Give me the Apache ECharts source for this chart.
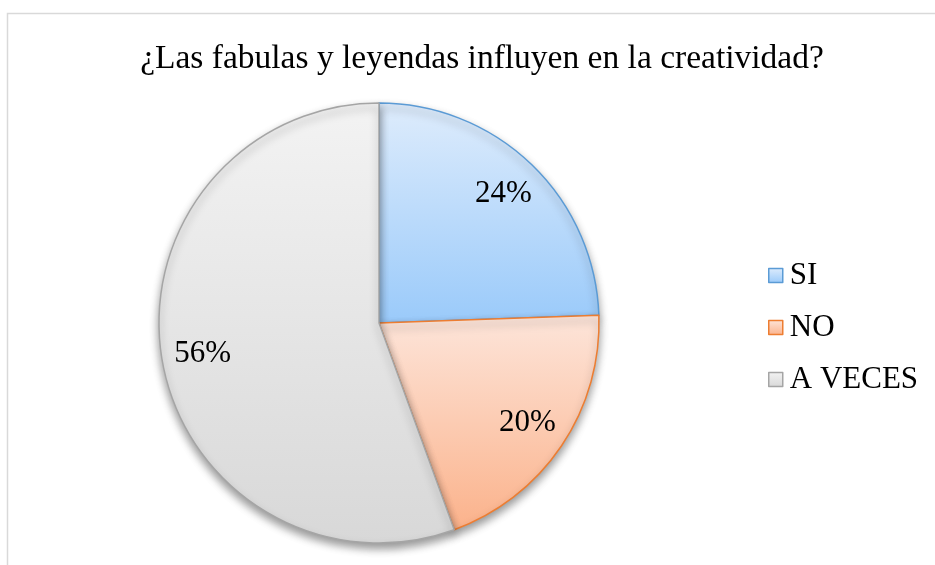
<!DOCTYPE html>
<html>
<head>
<meta charset="utf-8">
<script src="https://cdn.jsdelivr.net/npm/echarts@6/dist/echarts.min.js"></script>
<style>html,body{margin:0;padding:0;background:#fff;}#c{width:935px;height:565px;}</style>
</head>
<body>
<div id="c"></div>
<script>
const title = '¿Las fabulas y leyendas influyen en la creatividad?';
const categories = ['SI', 'NO', 'A VECES'];
const values = [11, 9, 25];
const borderColors = ['#5B9BD5', '#ED7D31', '#A5A5A5'];
const gradTop = ['#DEECFC', '#FDE5DA', '#F3F3F3'];
const gradBottom = ['#9ACAFA', '#FBB28B', '#D8D8D8'];

const FONT = '"Liberation Serif", "Times New Roman", serif';
const chart = echarts.init(document.getElementById('c'));

function grad(i) {
  return new echarts.graphic.LinearGradient(0, 0, 0, 1, [
    { offset: 0, color: gradTop[i] },
    { offset: 1, color: gradBottom[i] }
  ]);
}

const mainData = categories.map((n, i) => ({
  name: n, value: values[i],
  itemStyle: { color: grad(i), borderColor: borderColors[i], borderWidth: 1.5 }
}));
const labelData = categories.map((n, i) => ({ name: n, value: values[i] }));

chart.setOption({
  backgroundColor: '#fff',
  animation: false,
  graphic: [{
    type: 'rect', shape: { x: 7.5, y: 13.5, width: 940, height: 570 },
    style: { fill: 'none', stroke: '#D9D9D9', lineWidth: 1.5 }, silent: true, z: -10
  }],
  title: {
    text: title, left: 477, top: 37, textAlign: 'center',
    textStyle: { fontFamily: FONT, fontSize: 33.5, fontWeight: 'normal', color: '#000' }
  },
  legend: {
    orient: 'vertical', left: 763, top: 255,
    itemWidth: 14, itemHeight: 14, itemGap: 21,
    data: categories.map((n, i) => ({
      name: n, icon: 'rect',
      itemStyle: { color: grad(i), borderColor: borderColors[i], borderWidth: 1.5 }
    })),
    textStyle: { fontFamily: FONT, fontSize: 31, color: '#000', padding: [0, 0, 0, 2] }
  },
  series: [{
    type: 'pie', name: 'main', center: [379, 323], radius: [0, 220],
    startAngle: 90, clockwise: true, silent: true,
    label: { show: false }, labelLine: { show: false },
    itemStyle: { shadowBlur: 8, shadowOffsetY: 5, shadowColor: 'rgba(0,0,0,0.4)' },
    emphasis: { disabled: true },
    data: mainData
  }, {
    type: 'pie', name: 'labels', center: [379, 323], radius: [128, 224],
    startAngle: 90, clockwise: true, silent: true, percentPrecision: 0,
    itemStyle: { color: 'rgba(0,0,0,0)', borderWidth: 0 },
    label: { show: true, position: 'inside', formatter: '{d}%',
      fontFamily: FONT, fontSize: 31, color: '#000' },
    labelLine: { show: false },
    emphasis: { disabled: true },
    legendHoverLink: false,
    data: labelData
  }]
});
</script>
</body>
</html>
